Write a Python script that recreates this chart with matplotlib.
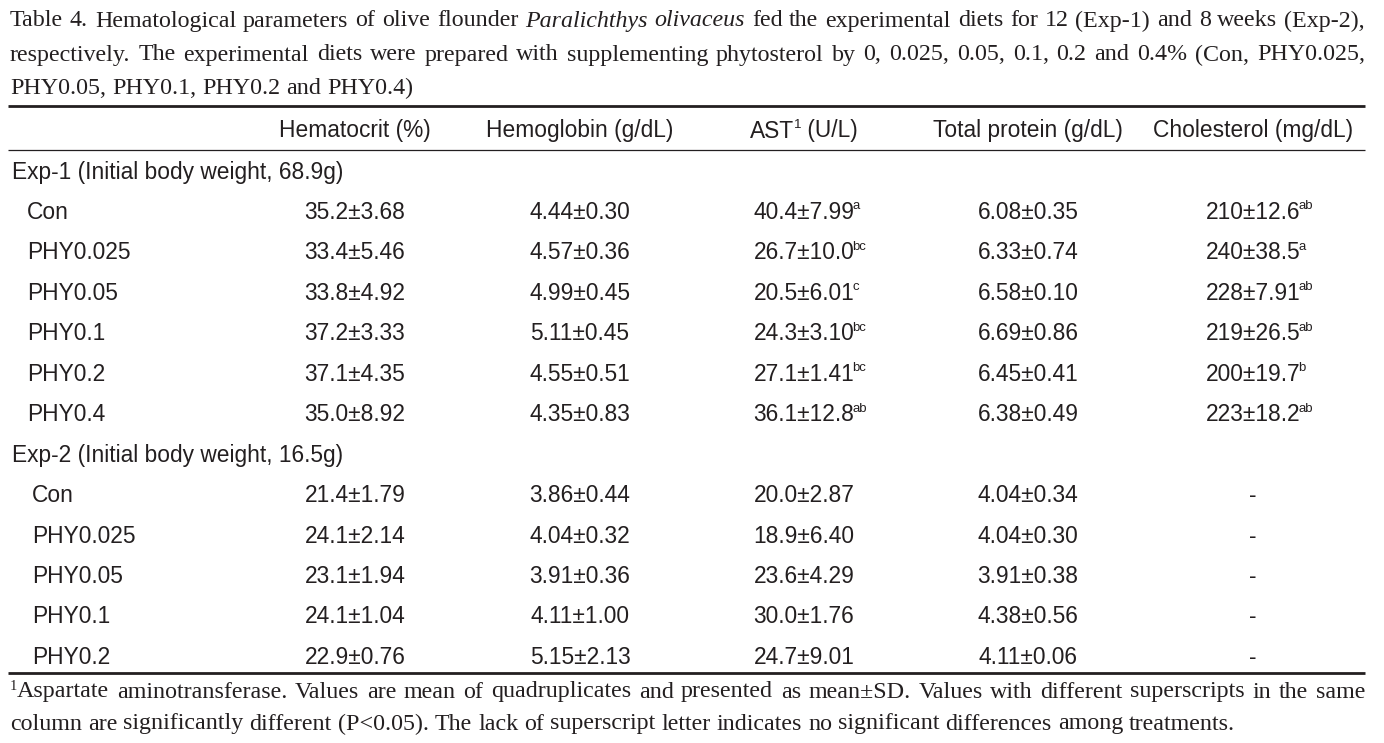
import matplotlib
matplotlib.use("Agg")
import matplotlib.pyplot as plt

# table content
title_lines = [
    [("Table 4. Hematological parameters of olive flounder", "normal"),
     ("Paralichthys olivaceus", "italic"),
     ("fed the experimental diets for 12 (Exp-1) and 8 weeks (Exp-2),", "normal")],
    [("respectively. The experimental diets were prepared with supplementing phytosterol "
      "by 0, 0.025, 0.05, 0.1, 0.2 and 0.4% (Con, PHY0.025,", "normal")],
    [("PHY0.05, PHY0.1, PHY0.2 and PHY0.4)", "normal")],
]

columns = ["Hematocrit (%)", "Hemoglobin (g/dL)", "AST|1| (U/L)",
           "Total protein (g/dL)", "Cholesterol (mg/dL)"]

groups = ["Exp-1 (Initial body weight, 68.9g)", "Exp-2 (Initial body weight, 16.5g)"]

exp1_diets = ["Con", "PHY0.025", "PHY0.05", "PHY0.1", "PHY0.2", "PHY0.4"]
exp1_hct = ["35.2±3.68", "33.4±5.46", "33.8±4.92", "37.2±3.33", "37.1±4.35", "35.0±8.92"]
exp1_hb = ["4.44±0.30", "4.57±0.36", "4.99±0.45", "5.11±0.45", "4.55±0.51", "4.35±0.83"]
exp1_ast = ["40.4±7.99", "26.7±10.0", "20.5±6.01", "24.3±3.10", "27.1±1.41", "36.1±12.8"]
exp1_ast_sig = ["a", "bc", "c", "bc", "bc", "ab"]
exp1_tp = ["6.08±0.35", "6.33±0.74", "6.58±0.10", "6.69±0.86", "6.45±0.41", "6.38±0.49"]
exp1_chol = ["210±12.6", "240±38.5", "228±7.91", "219±26.5", "200±19.7", "223±18.2"]
exp1_chol_sig = ["ab", "a", "ab", "ab", "b", "ab"]

exp2_diets = ["Con", "PHY0.025", "PHY0.05", "PHY0.1", "PHY0.2"]
exp2_hct = ["21.4±1.79", "24.1±2.14", "23.1±1.94", "24.1±1.04", "22.9±0.76"]
exp2_hb = ["3.86±0.44", "4.04±0.32", "3.91±0.36", "4.11±1.00", "5.15±2.13"]
exp2_ast = ["20.0±2.87", "18.9±6.40", "23.6±4.29", "30.0±1.76", "24.7±9.01"]
exp2_tp = ["4.04±0.34", "4.04±0.30", "3.91±0.38", "4.38±0.56", "4.11±0.06"]
exp2_chol = ["-", "-", "-", "-", "-"]

footnote = [
    "Aspartate aminotransferase. Values are mean of quadruplicates and presented as mean±SD. "
    "Values with different superscripts in the same",
    "column are significantly different (P<0.05). The lack of superscript letter indicates "
    "no significant differences among treatments.",
]

W, H = 1384, 743
INK = "#231f20"
SERIF = "Liberation Serif"
SANS = "Liberation Sans"

fig = plt.figure(figsize=(W / 100, H / 100), dpi=100)
ax = fig.add_axes([0, 0, 1, 1])
ax.set_xlim(0, W)
ax.set_ylim(H, 0)
ax.axis("off")
renderer = fig.canvas.get_renderer()


def width(s, size, family, style="normal"):
    t = ax.text(0, 0, s, fontsize=size, family=family, style=style)
    w = t.get_window_extent(renderer).width
    t.remove()
    return w


def fit_size(s, target, family):
    return 12 * target / width(s, 12, family)


serif_size = fit_size("PHY0.05, PHY0.1, PHY0.2 and PHY0.4)", 402, SERIF)
sans_size = fit_size("Exp-1 (Initial body weight, 68.9g)", 333, SANS)
sup_size = sans_size * 0.58

left, right = 10, 1365


def justified(parts, y, x0, x1, size, justify=True):
    words = []
    for text, style in parts:
        for wd in text.split(" "):
            words.append((wd, style))
    widths = [width(wd, size, SERIF, st) for wd, st in words]
    if justify:
        gap = (x1 - x0 - sum(widths)) / (len(words) - 1)
    else:
        gap = width("a b", size, SERIF) - width("ab", size, SERIF)
    x = x0
    for (wd, st), w in zip(words, widths):
        ax.text(x, y, wd, fontsize=size, family=SERIF, style=st, color=INK,
                ha="left", va="center")
        x += w + gap


# title
title_y = [21, 55, 88]
for i, parts in enumerate(title_lines):
    justified(parts, title_y[i], left, right, serif_size, justify=(i < 2))

# rules
ax.plot([8, 1365], [106, 106], color=INK, lw=2.0, solid_capstyle="butt")
ax.plot([8, 1365], [150, 150], color=INK, lw=0.9, solid_capstyle="butt")
ax.plot([8, 1365], [673, 673], color=INK, lw=2.0, solid_capstyle="butt")

# column headers
col_x = [355, 580, 804, 1028, 1253]
header_y = 131
for cx, name in zip(col_x, columns):
    if "|" in name:
        a, sup, b = name.split("|")
        wa = width(a, sans_size, SANS)
        ws = width(sup, sup_size, SANS)
        wb = width(b, sans_size, SANS)
        x = cx - (wa + ws + wb) / 2
        ax.text(x, header_y, a, fontsize=sans_size, family=SANS, color=INK, va="center")
        ax.text(x + wa, header_y - 6, sup, fontsize=sup_size, family=SANS, color=INK, va="center")
        ax.text(x + wa + ws, header_y, b, fontsize=sans_size, family=SANS, color=INK, va="center")
    else:
        ax.text(cx, header_y, name, fontsize=sans_size, family=SANS, color=INK,
                ha="center", va="center")


def cell(cx, y, value, sig=""):
    ax.text(cx, y, value, fontsize=sans_size, family=SANS, color=INK, ha="center", va="center")
    if sig:
        w = width(value, sans_size, SANS)
        ax.text(cx + w / 2 - 2, y - 6, sig, fontsize=sup_size, family=SANS, color=INK,
                ha="left", va="center")


row_h = 40.45
y = 172
ax.text(12, y, groups[0], fontsize=sans_size, family=SANS, color=INK, va="center")
for i, d in enumerate(exp1_diets):
    y += row_h
    ax.text(27, y, d, fontsize=sans_size, family=SANS, color=INK, va="center")
    cell(col_x[0], y, exp1_hct[i])
    cell(col_x[1], y, exp1_hb[i])
    cell(col_x[2], y, exp1_ast[i], exp1_ast_sig[i])
    cell(col_x[3], y, exp1_tp[i])
    cell(col_x[4], y, exp1_chol[i], exp1_chol_sig[i])

y += row_h
ax.text(12, y, groups[1], fontsize=sans_size, family=SANS, color=INK, va="center")
for i, d in enumerate(exp2_diets):
    y += row_h
    ax.text(32, y, d, fontsize=sans_size, family=SANS, color=INK, va="center")
    cell(col_x[0], y, exp2_hct[i])
    cell(col_x[1], y, exp2_hb[i])
    cell(col_x[2], y, exp2_ast[i])
    cell(col_x[3], y, exp2_tp[i])
    cell(col_x[4], y, exp2_chol[i])

# footnote
fn_size = serif_size
one = width("1", fn_size * 0.6, SERIF)
ax.text(left, 686, "1", fontsize=fn_size * 0.6, family=SERIF, color=INK, va="center")
justified([(footnote[0], "normal")], 692, left + one, right, fn_size)
justified([(footnote[1], "normal")], 724, left, right, fn_size, justify=False)

fig.savefig("out.png", dpi=100)
